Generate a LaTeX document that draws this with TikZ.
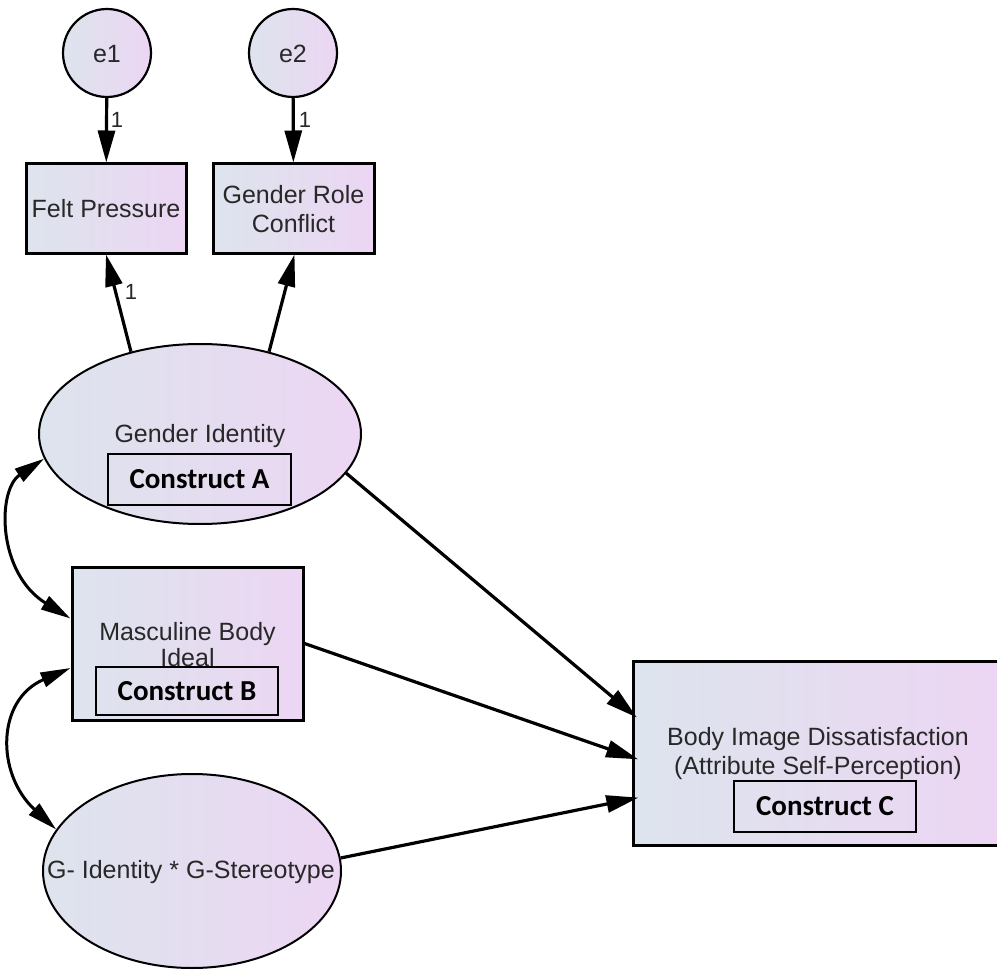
\documentclass[tikz,border=0pt]{standalone}
\usepackage{fontspec}
\setmainfont{Liberation Sans}
\newfontfamily\carlitofont{Carlito}
\usetikzlibrary{arrows.meta,shapes.geometric,calc}
\definecolor{gleft}{RGB}{221,228,237}
\definecolor{gright}{RGB}{236,214,243}
\definecolor{txtgrey}{RGB}{40,40,40}
\tikzset{
  shade box/.style={left color=gleft, right color=gright, draw=black},
  obsbox/.style={shade box, rectangle, line width=3pt, inner sep=0pt},
  latent/.style={shade box, ellipse, line width=2pt, inner sep=0pt},
  errc/.style={shade box, circle, line width=2.2pt, inner sep=0pt, minimum size=88pt},
  lbl/.style={font=\fontsize{25}{29}\selectfont, text=txtgrey, align=center, inner sep=0pt},
  onelbl/.style={font=\fontsize{22}{24}\selectfont, text=txtgrey, inner sep=0pt},
  cbox/.style={draw=black, line width=1.3pt, inner sep=0pt, font=\carlitofont\bfseries\fontsize{29}{31}\selectfont},
  path arrow/.style={line width=3.2pt, -{Triangle[length=32pt,width=17pt]}},
  cov arrow/.style={line width=3pt, {Triangle[length=30pt,width=15pt]}-{Triangle[length=30pt,width=15pt]}}
}
\begin{document}
\begin{tikzpicture}[x=1pt,y=-1pt]
\useasboundingbox (0,0) rectangle (997,971);
% error terms
\node[errc] (e1) at (107,53) {};
\node[lbl] (e1t) at (107,54) {e1};
\node[errc] (e2) at (293,53) {};
\node[lbl] (e2t) at (293,54) {e2};
% observed boxes top
\node[obsbox, minimum width=160pt, minimum height=89pt] (FP) at (106,208.5) {};
\node[lbl] (FPt) at (106,209) {Felt Pressure};
\node[obsbox, minimum width=161pt, minimum height=89pt] (GRC) at (293.5,208.5) {};
\node[lbl] (GRCt) at (293.5,209) {Gender Role\\Conflict};
% Gender identity
\node[latent, minimum width=322pt, minimum height=180pt] (GI) at (200,434) {};
\node[lbl] (GIt) at (200,436) {Gender Identity};
\node[cbox, minimum width=183pt, minimum height=51pt] (CA) at (199.5,479.5) {Construct A};
% Masculine body ideal
\node[obsbox, minimum width=231pt, minimum height=153pt] (MBI) at (187.5,643.5) {};
\node[lbl] (MBIt) at (187.5,645) {Masculine Body\\[-3pt]Ideal};
\node[cbox, minimum width=182pt, minimum height=48pt] (CB) at (187,691) {Construct B};
% Interaction
\node[latent, minimum width=298pt, minimum height=194pt] (GIGS) at (192,871) {};
\node[lbl] (GIGSt) at (191,872) {G- Identity {*} G-Stereotype};
% Body image dissatisfaction
\node[obsbox, minimum width=367pt, minimum height=184pt] (BID) at (816.5,753) {};
\node[lbl] (BIDt) at (818,753.5) {Body Image Dissatisfaction\\(Attribute Self-Perception)};
\node[cbox, minimum width=182pt, minimum height=51pt] (CC) at (825,806.5) {Construct C};
% paths
\draw[path arrow] (e1) -- (FP);
\draw[path arrow] (e2) -- (GRC);
\node[onelbl] (l1) at (117,120) {1};
\node[onelbl] (l2) at (305,120) {1};
\draw[path arrow] (GI.130) -- (FP.south);
\node[onelbl] (l3) at (131,292) {1};
\draw[path arrow] (GI.50) -- ([xshift=1pt]GRC.south);
\draw[path arrow, shorten >=-7pt] (GI.-15) -- ([yshift=40pt]BID.west);
\draw[path arrow, shorten >=-7pt] (MBI.east) -- ([yshift=-4pt]BID.west);
\draw[path arrow, shorten >=-7pt] (GIGS.5.5) -- ([yshift=-46pt]BID.west);
% covariances
\draw[cov arrow] (GI.189) .. controls (-3,490) and (-3,573) .. ([yshift=25pt]MBI.west);
\draw[cov arrow] ([yshift=-24.5pt]MBI.west) .. controls (-4,700) and (-4,774) .. (GIGS.163);
\end{tikzpicture}
\end{document}
